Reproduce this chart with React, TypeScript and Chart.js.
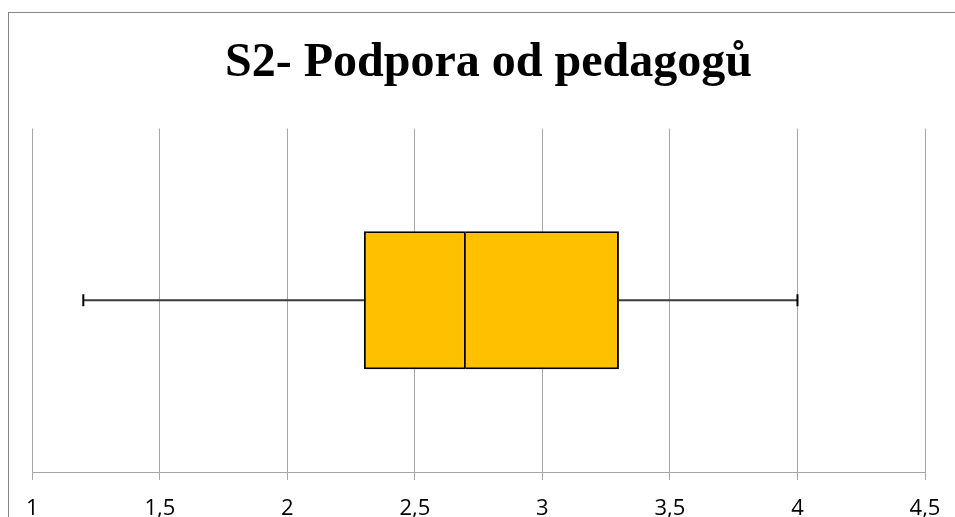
import React, { useEffect, useRef } from "react";
import { Chart, registerables } from "chart.js";

Chart.register(...registerables);

const title = "S2- Podpora od pedagogů";
const categories = ["S2"];
const minValues = [1.2];
const q1Values = [2.3];
const medianValues = [2.7];
const q3Values = [3.3];
const maxValues = [4.0];
const axisMin = 1;
const axisMax = 4.5;
const axisStep = 0.5;

export default function App() {
  const ref = useRef<HTMLCanvasElement | null>(null);

  useEffect(() => {
    const canvas = ref.current;
    if (!canvas) return;
    const cat = categories[0];
    const boxCommon = {
      type: "bar",
      backgroundColor: "#FFC000",
      borderColor: "#000000",
      borderSkipped: false,
      barPercentage: 0.402,
      categoryPercentage: 1,
      grouped: false,
      order: 1,
    };
    const whiskerCommon = {
      type: "line",
      borderColor: "#3a3a3a",
      borderWidth: 2,
      pointStyle: "line",
      rotation: 90,
      pointBorderColor: "#000000",
      pointBorderWidth: 2,
      order: 2,
    };
    const chart = new Chart(canvas, {
      type: "bar",
      data: {
        labels: categories,
        datasets: [
          {
            ...boxCommon,
            data: categories.map((_, i) => [q1Values[i], medianValues[i]]),
            borderWidth: { top: 2, bottom: 2, left: 2, right: 2 },
          } as any,
          {
            ...boxCommon,
            data: categories.map((_, i) => [medianValues[i], q3Values[i]]),
            borderWidth: { top: 2, bottom: 2, left: 0, right: 2 },
          } as any,
          {
            ...whiskerCommon,
            data: [
              { x: minValues[0], y: cat },
              { x: q1Values[0], y: cat },
            ],
            pointRadius: [6, 0],
          } as any,
          {
            ...whiskerCommon,
            data: [
              { x: q3Values[0], y: cat },
              { x: maxValues[0], y: cat },
            ],
            pointRadius: [0, 6],
          } as any,
        ],
      },
      options: {
        indexAxis: "y",
        animation: false,
        responsive: false,
        layout: { padding: { left: 4, right: 4, top: 0, bottom: 0 } },
        plugins: {
          legend: { display: false },
          tooltip: { enabled: false },
          title: {
            display: true,
            text: title,
            color: "#000000",
            font: { family: "'Liberation Serif', 'Times New Roman', serif", size: 48, weight: "bold", lineHeight: 1.2 },
            padding: { top: 23, bottom: 36 },
          },
        },
        scales: {
          x: {
            type: "linear",
            min: axisMin,
            max: axisMax,
            ticks: {
              stepSize: axisStep,
              color: "#000000",
              font: { family: "'Open Sans', 'Noto Sans', sans-serif", size: 22, lineHeight: 1 },
              padding: 18,
              maxRotation: 0,
              callback: (v: any) => String(v).replace(".", ","),
            },
            grid: { color: "#a6a6a6", lineWidth: 1, tickLength: 8 },
            border: { color: "#a6a6a6", width: 1 },
            afterFit: (scale: any) => {
              scale.height = 45;
            },
          },
          y: {
            type: "category",
            position: "left",
            display: true,
            grid: { display: false },
            border: { display: false },
            ticks: { display: false },
            afterFit: (scale: any) => {
              scale.width = 20;
            },
          },
          yRight: {
            type: "category",
            position: "right",
            display: true,
            grid: { display: false },
            border: { display: false },
            ticks: { display: false },
            afterFit: (scale: any) => {
              scale.width = 40;
            },
          },
        },
      } as any,
    });
    return () => chart.destroy();
  }, []);

  return (
    <div
      style={{
        position: "fixed",
        left: 0,
        top: 0,
        width: 955,
        height: 517,
        overflow: "hidden",
        background: "#ffffff",
      }}
    >
      <div
        style={{
          position: "absolute",
          left: 8,
          top: 12,
          width: 961,
          height: 520,
          border: "1px solid #868686",
          boxSizing: "border-box",
        }}
      />
      <canvas
        ref={ref}
        width={961}
        height={505}
        style={{ position: "absolute", left: 8, top: 12, width: 961, height: 505 }}
      />
    </div>
  );
}
